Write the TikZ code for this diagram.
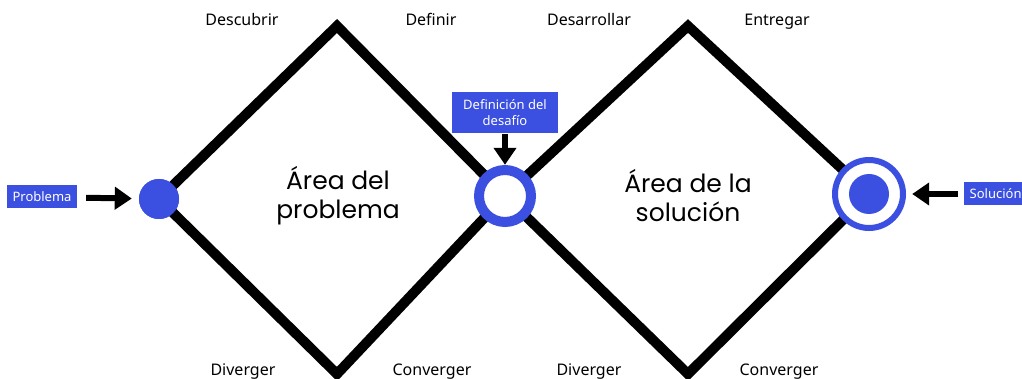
\documentclass[tikz,border=0pt]{standalone}
\usepackage{fontspec}
\setmainfont{Noto Sans}
\newfontfamily\areafont{Poppins}
\usetikzlibrary{arrows.meta}

\begin{document}
\begin{tikzpicture}[x=1pt,y=-1pt,>={Triangle[length=17pt,width=22pt]}]

\definecolor{dblue}{RGB}{59,80,224}

\tikzset{
	tag/.style={fill=dblue,text=white,font=\fontsize{13}{16}\selectfont,inner xsep=5.5pt,inner ysep=3pt,minimum height=23pt,align=center},
	phase/.style={anchor=base,font=\fontsize{16}{18}\selectfont},
	area/.style={font=\areafont\fontsize{25}{29}\selectfont,align=center},
	bigarrow/.style={->,line width=6pt},
}

\useasboundingbox[fill=white] (0,0) rectangle (1022,379);

% the two diamonds
\coordinate (t1) at (337,26);
\coordinate (b1) at (337,374);
\coordinate (t2) at (688,26);
\coordinate (b2) at (688,374);

\node[circle,fill=dblue,minimum size=40pt,inner sep=0pt] (start) at (159,199) {};
\node[circle,minimum size=52pt,inner sep=0pt] (mid) at (505,196) {};
\node[circle,minimum size=68pt,inner sep=0pt] (end) at (869,194) {};

\draw[line width=10pt] (start.center)--(t1)--(mid.center)--(b1)--cycle;
\draw[line width=10pt] (mid.center)--(t2)--(end.center)--(b2)--cycle;

\fill[color=dblue] (start) circle (20);
\draw[color=dblue,fill=white,line width=10pt] (mid) circle (26);
\draw[color=dblue,fill=white,line width=6pt] (end) circle (34);
\fill[color=dblue] (end) circle (20);

\node[area] (area1) at (338,196) {Área del\\problema};
\node[area] (area2) at (688,196) {Área de la\\solución};

\foreach \n/\x/\t in {1/242/Descubrir,2/431/Definir,3/589/Desarrollar,4/777/Entregar}{
	\node[phase] (up\n) at (\x,26) {\t};
}
\foreach \n/\x/\t in {1/243/Diverger,2/432/Converger,3/589/Diverger,4/779/Converger}{
	\node[phase] (down\n) at (\x,375) {\t};
}

\node[tag] (prob) at (42,197) {Problema};
\node[tag,minimum width=106pt,minimum height=41pt] (chal) at (505,113) {Definición del\\desafío};
\node[tag,anchor=west] (sol) at (964,194) {Solución};

\draw[bigarrow,shorten <=9pt,shorten >=7pt] (prob) -- (start);
\draw[bigarrow,shorten >=5pt] (chal) -- (mid);
\draw[bigarrow,shorten <=6pt,shorten >=9pt] (sol) -- (end);

\end{tikzpicture}
\end{document}
